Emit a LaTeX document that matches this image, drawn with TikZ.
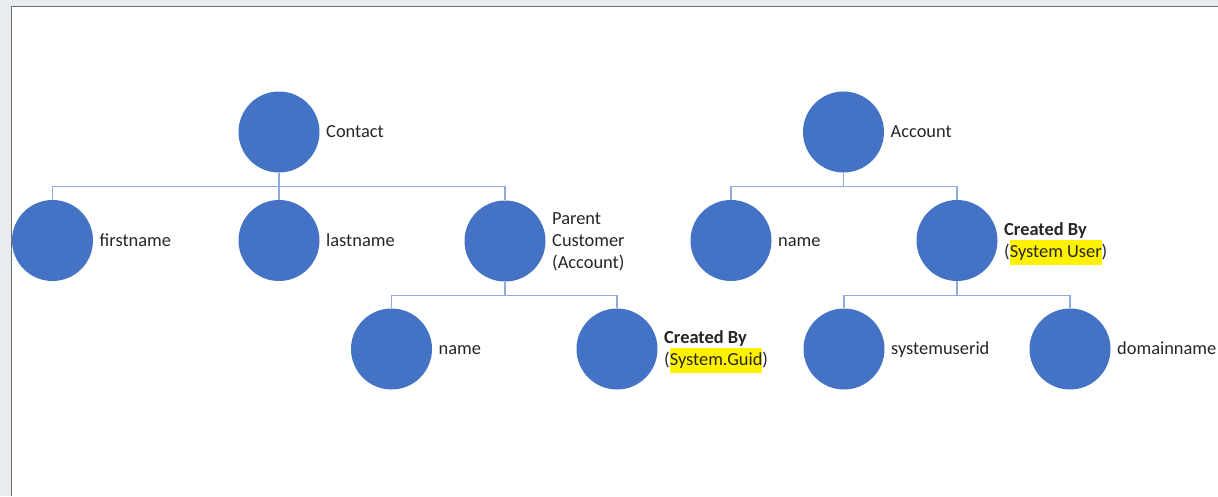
\documentclass[tikz,border=0pt]{standalone}
\usepackage{fontspec}
\setmainfont{Carlito}
\usepackage{xcolor}
\definecolor{circ}{HTML}{4472C4}
\definecolor{conncol}{HTML}{8FAADC}
\definecolor{txt}{HTML}{262626}
\definecolor{bgc}{HTML}{E9ECEF}
\definecolor{framec}{HTML}{6E6E6E}
\newcommand{\hlite}[1]{{\setlength{\fboxsep}{0pt}\colorbox{yellow}{\rule[-7pt]{0pt}{25pt}#1}}}
\begin{document}
\begin{tikzpicture}[x=1pt,y=-1pt,
  ent/.style={circle,fill=circ,minimum size=81pt,inner sep=0pt},
  lbl/.style={text=txt,font=\fontsize{18.4}{22}\selectfont,align=left,inner sep=0pt,anchor=west},
  lbl1/.style={text=txt,font=\fontsize{18.4}{22}\selectfont,inner sep=0pt,anchor=base west},
  conn/.style={draw=conncol,line width=1.3pt}]
\useasboundingbox (0,0) rectangle (1218,496);
\fill[bgc] (0,0) rectangle (1218,496);
\fill[white] (11,7) rectangle (1218,496);
\draw[framec,line width=1.2pt] (11.6,496) -- (11.6,6.6) -- (1218,6.6);

% left tree
\node[ent] (contact) at (279,132) {};
\node[lbl1] (contactL) at (326,137.5) {Contact};
\node[ent] (fn) at (52.5,240.5) {};
\node[lbl1] (fnL) at (99.5,246) {firstname};
\node[ent] (ln) at (279,240.5) {};
\node[lbl1] (lnL) at (326,246) {lastname};
\node[ent] (pc) at (505,241) {};
\node[lbl] (pcL) at (552,242) {Parent\\Customer\\(Account)};
\node[ent] (n1) at (391.5,349) {};
\node[lbl1] (n1L) at (438.5,354.5) {name};
\node[ent] (cb1) at (617,349) {};
\node[lbl] (cb1L) at (664,352) {\textbf{Created By}\\(\hlite{System.Guid})};

% right tree
\node[ent] (account) at (843.5,132) {};
\node[lbl1] (accountL) at (890.5,137.5) {Account};
\node[ent] (n2) at (731,240.5) {};
\node[lbl1] (n2L) at (778,246) {name};
\node[ent] (cb2) at (957,240.5) {};
\node[lbl] (cb2L) at (1004,244) {\textbf{Created By}\\(\hlite{System User})};
\node[ent] (su) at (844,349) {};
\node[lbl1] (suL) at (891,354.5) {systemuserid};
\node[ent] (dn) at (1070,349) {};
\node[lbl1] (dnL) at (1117,354.5) {domainname};

% connectors
\draw[conn] (contact.south) -- ++(0,14) -| (fn.north);
\draw[conn] (contact.south) -- (ln.north);
\draw[conn] (contact.south) -- ++(0,14) -| (pc.north);
\draw[conn] (pc.south) -- ++(0,14) -| (n1.north);
\draw[conn] (pc.south) -- ++(0,14) -| (cb1.north);
\draw[conn] (account.south) -- ++(0,14) -| (n2.north);
\draw[conn] (account.south) -- ++(0,14) -| (cb2.north);
\draw[conn] (cb2.south) -- ++(0,14) -| (su.north);
\draw[conn] (cb2.south) -- ++(0,14) -| (dn.north);
\end{tikzpicture}
\end{document}
